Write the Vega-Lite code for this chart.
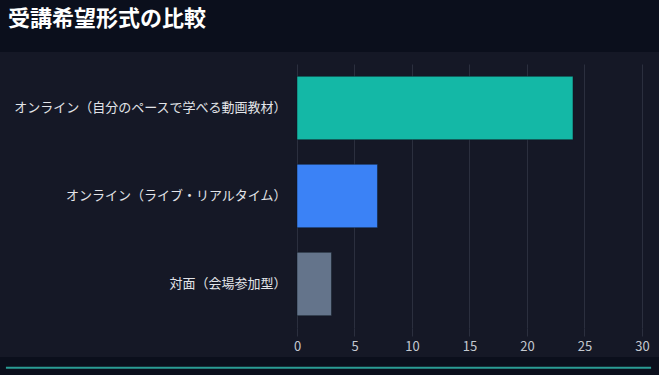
{
  "$schema": "https://vega.github.io/schema/vega-lite/v6.json",
  "background": "#151826",
  "padding": 0,
  "columns": 1,
  "align": "none",
  "spacing": 4,
  "config": {"view": {"stroke": null}, "font": "Noto Sans CJK JP"},
  "concat": [
    {
      "width": 659,
      "height": 52,
      "view": {"fill": "#0b0f1c", "stroke": null},
      "data": {"values": [{"title": "受講希望形式の比較"}]},
      "mark": {"type": "text", "align": "left", "baseline": "middle", "fontSize": 22, "fontWeight": "bold", "color": "#ffffff", "dx": 8, "dy": -7},
      "encoding": {
        "text": {"field": "title"},
        "x": {"datum": 0, "scale": {"domain": [0, 1]}, "axis": null},
        "y": {"datum": 0.5, "scale": {"domain": [0, 1]}, "axis": null}
      }
    },
    {
      "width": 652,
      "height": 264,
      "title": {"text": " ", "fontSize": 1, "offset": 7},
      "data": {"values": [
        {"format": "オンライン（自分のペースで学べる動画教材）", "count": 24},
        {"format": "オンライン（ライブ・リアルタイム）", "count": 7},
        {"format": "対面（会場参加型）", "count": 3}
      ]},
      "mark": {"type": "bar", "stroke": "#0f1a24", "strokeWidth": 1, "strokeOpacity": 0.5},
      "encoding": {
        "y": {"field": "format", "type": "nominal", "sort": null,
              "scale": {"paddingInner": 0.28, "paddingOuter": 0.14},
              "axis": {"title": null, "labelFontSize": 13, "labelColor": "#e2e4e8", "labelLimit": 0, "ticks": false, "domain": false, "labelPadding": 11, "offset": -297, "minExtent": 0, "maxExtent": 0}},
        "x": {"field": "count", "type": "quantitative", "scale": {"domain": [-25.826, 30.87], "nice": false, "zero": false},
              "axis": {"title": null, "values": [0, 5, 10, 15, 20, 25, 30], "grid": true, "gridColor": "#2b2f3e", "tickColor": "#2b2f3e", "tickSize": 8, "domain": false, "labelColor": "#c4c8d0", "labelFontSize": 13, "labelPadding": 4}},
        "color": {"field": "format", "type": "nominal", "sort": null,
                  "scale": {"domain": ["オンライン（自分のペースで学べる動画教材）", "オンライン（ライブ・リアルタイム）", "対面（会場参加型）"], "range": ["#14b8a6", "#3b82f6", "#64748b"]},
                  "legend": null}
      }
    },
    {
      "width": 659,
      "height": 18,
      "view": {"fill": "#0b0f1c", "stroke": null},
      "data": {"values": [{}]},
      "mark": {"type": "rule", "color": "#2a9d94", "strokeWidth": 2},
      "encoding": {
        "y": {"datum": 0.4, "scale": {"domain": [0, 1]}, "axis": null},
        "x": {"datum": 0.009, "scale": {"domain": [0, 1]}, "axis": null},
        "x2": {"datum": 0.988}
      }
    }
  ]
}
